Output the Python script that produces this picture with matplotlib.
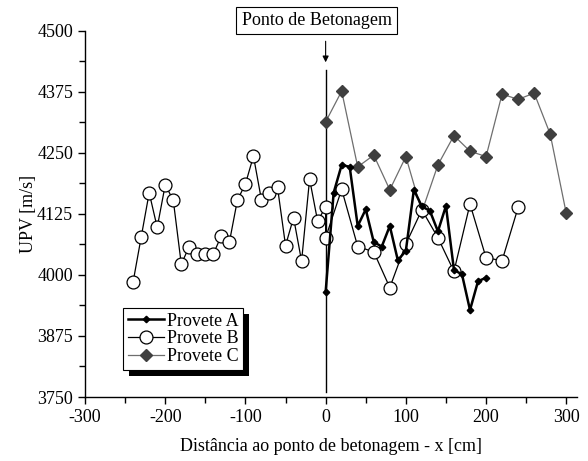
# UPV along the specimen, three provetes
import matplotlib.pyplot as plt
from matplotlib.patches import Rectangle
from matplotlib.ticker import MultipleLocator

plt.rcParams['font.family'] = ['Liberation Serif', 'DejaVu Serif']
plt.rcParams['font.size'] = 13
plt.rcParams['axes.unicode_minus'] = False

# Provete A
xA = [0, 10, 20, 30, 40, 50, 60, 70, 80, 90, 100, 110, 120, 130, 140, 150,
      160, 170, 180, 190, 200]
yA = [3965, 4168, 4225, 4221, 4100, 4134, 4067, 4058, 4100, 4030, 4049, 4174,
      4140, 4131, 4089, 4141, 4010, 4001, 3928, 3987, 3994]

# Provete B
xB = [-240, -230, -220, -210, -200, -190, -180, -170, -160, -150, -140, -130,
      -120, -110, -100, -90, -80, -70, -60, -50, -40, -30, -20, -10, 0, 0,
      20, 40, 60, 80, 100, 120, 140, 160, 180, 200, 220, 240]
yB = [3986, 4077, 4168, 4097, 4184, 4153, 4022, 4058, 4043, 4043, 4043, 4080,
      4067, 4153, 4186, 4243, 4153, 4167, 4179, 4060, 4117, 4028, 4196, 4110,
      4139, 4076, 4175, 4058, 4047, 3974, 4063, 4133, 4076, 4007, 4145, 4035,
      4029, 4138]

# Provete C
xC = [0, 20, 40, 60, 80, 100, 120, 140, 160, 180, 200, 220, 240, 260, 280, 300]
yC = [4313, 4376, 4221, 4245, 4174, 4242, 4129, 4225, 4285, 4253, 4242, 4370,
      4359, 4372, 4288, 4126]

# casting point marker
pour_x = 0
pour_line = (3760, 4420)
arrow_y = (4478, 4435)

fig = plt.figure(figsize=(5.88, 4.61), dpi=100)
ax = fig.add_axes([0.1446, 0.1388, 0.8375, 0.795])

ax.plot([pour_x, pour_x], pour_line, color='black', lw=1.0, zorder=1)
ax.annotate('', xy=(pour_x, arrow_y[1]), xytext=(pour_x, arrow_y[0]),
            arrowprops=dict(arrowstyle='-|>', color='black', lw=0.8,
                            mutation_scale=9, shrinkA=0, shrinkB=0))

ax.plot(xC, yC, color='#6e6e6e', lw=0.9, marker='D', ms=6,
        mfc='#3f3f3f', mec='#3f3f3f', label='Provete C', zorder=2)
ax.plot(xB, yB, color='black', lw=0.9, marker='o', ms=9.3,
        mfc='white', mec='black', mew=0.9, label='Provete B', zorder=3)
ax.plot(xA, yA, color='black', lw=1.8, marker='D', ms=3.3,
        mfc='black', mec='black', label='Provete A', zorder=4)

ax.set_xlim(-300, 314)
ax.set_ylim(3750, 4500)
ax.xaxis.set_major_locator(MultipleLocator(100))
ax.xaxis.set_minor_locator(MultipleLocator(50))
ax.yaxis.set_major_locator(MultipleLocator(125))
ax.yaxis.set_minor_locator(MultipleLocator(62.5))
ax.tick_params(which='both', direction='out', width=1.0)
ax.tick_params(which='major', length=5)
ax.tick_params(which='minor', length=4)
ax.spines['top'].set_visible(False)
ax.spines['right'].set_visible(False)
for s in ['left', 'bottom']:
    ax.spines[s].set_linewidth(1.0)

ax.set_xlabel('Distância ao ponto de betonagem - x [cm]', labelpad=9)
ax.set_ylabel('UPV [m/s]', labelpad=0)

fig.text(316.5 / 588, 1 - 20.5 / 461, 'Ponto de Betonagem', ha='center', va='center',
         bbox=dict(boxstyle='square,pad=0.3', fc='white', ec='black', lw=0.8))

handles, labels = ax.get_legend_handles_labels()
order = [2, 1, 0]
leg = ax.legend([handles[i] for i in order], [labels[i] for i in order],
                loc='upper left', bbox_to_anchor=(123 / 588, 1 - 308 / 461),
                bbox_transform=fig.transFigure, fancybox=False, framealpha=1,
                edgecolor='black', handlelength=2.0, handletextpad=0.2,
                labelspacing=0.05, borderpad=0.25, borderaxespad=0)
leg.get_frame().set_linewidth(0.8)

# solid black drop shadow behind the legend
fig.canvas.draw()
bb = leg.get_window_extent()
inv = fig.transFigure.inverted()
(x0, y0), (x1, y1) = inv.transform([(bb.x0 + 6, bb.y0 - 6), (bb.x1 + 6, bb.y1 - 6)])
ax.add_patch(Rectangle((x0, y0), x1 - x0, y1 - y0, transform=fig.transFigure,
                       fc='black', ec='none', clip_on=False, zorder=4.9))

fig.savefig('out.png', dpi=100)
